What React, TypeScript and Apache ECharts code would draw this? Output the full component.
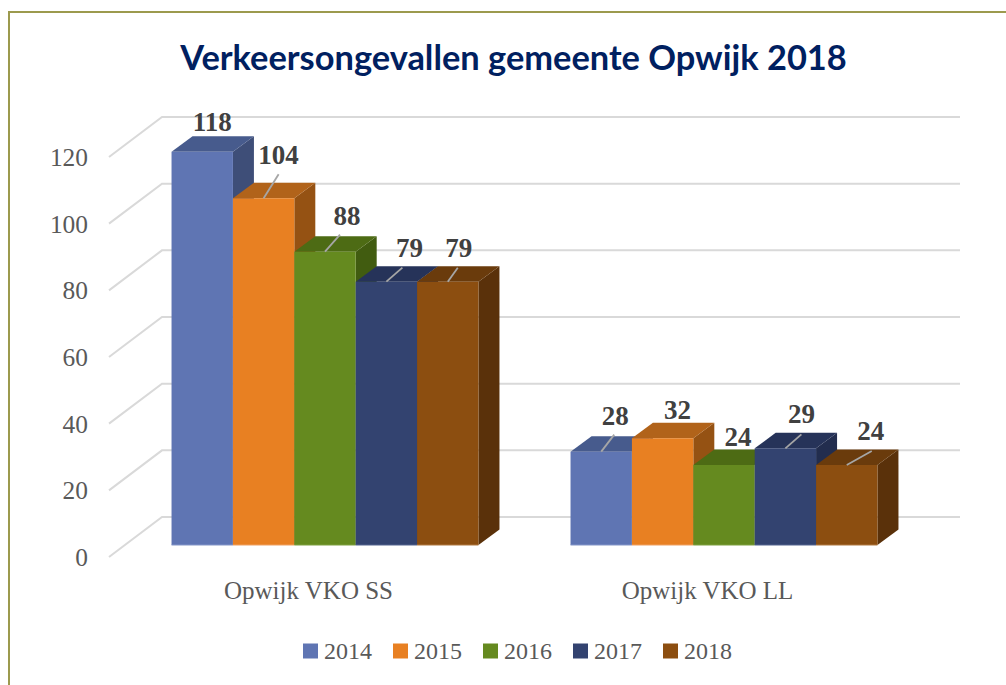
import React, { useEffect, useRef } from "react";
import * as echarts from "echarts";

const title = "Verkeersongevallen gemeente Opwijk 2018";
const categories = ["Opwijk VKO SS", "Opwijk VKO LL"];
const years = ["2014", "2015", "2016", "2017", "2018"];
const values2014 = [118, 28];
const values2015 = [104, 32];
const values2016 = [88, 24];
const values2017 = [79, 29];
const values2018 = [79, 24];
const yTicks = [0, 20, 40, 60, 80, 100, 120];

const allValues = [values2014, values2015, values2016, values2017, values2018];
const frontColors = ["#5F75B3", "#E88022", "#658A1F", "#334370", "#8C4E10"];
const topColors = ["#475B8D", "#B1631A", "#4D6B14", "#263359", "#6A3B0C"];
const sideColors = ["#3E4E78", "#955213", "#415C10", "#222D4E", "#5A310A"];
const edgeColors = ["#8496C8", "#F0A060", "#7FA040", "#55658F", "#B07840"];

// label placement relative to the top-front centre of a bar: [dx, dy, leaderDx, leaderDy]
const labelPlacement = [
  [[10, -30], [14, -36, 13, -17]],
  [[15, -43, 15, -24], [15, -28]],
  [[22, -36, 15, -17], [14, -28]],
  [[23, -34, 16, -14], [16, -34, 16, -14]],
  [[11, -34, 10, -14], [24, -34, 25, -14]],
];

const SERIF = "'Liberation Serif', serif";
const WALL = { dx: 53, dy: -40 };
const PLANE = { dx: 16.5, dy: -12 };
const DEPTH = { dx: 21, dy: -15.5 };
const GAP = 1.5;

function barGeometry(api: any, yearIdx: number) {
  const cat = api.value(0);
  const val = api.value(1);
  const [cx, top] = api.coord([cat, val]);
  const [, base] = api.coord([cat, 0]);
  const w = api.size([1, 0])[0] / (5 + GAP);
  const x0 = cx + (yearIdx - 2.5) * w + PLANE.dx;
  return { x0, x1: x0 + w, top: top + PLANE.dy, base: base + PLANE.dy, w, cat };
}

export default function App() {
  const ref = useRef<HTMLDivElement>(null);
  useEffect(() => {
    document.body.style.margin = "0";
    const chart = echarts.init(ref.current!, undefined, { renderer: "svg" });

    const wallSeries = {
      type: "custom",
      name: "wall",
      silent: true,
      z: 1,
      data: yTicks.map((t) => [0, t]),
      encode: { x: 0, y: 1 },
      renderItem: (params: any, api: any) => {
        const [, y] = api.coord([0, api.value(1)]);
        const cs = params.coordSys;
        return {
          type: "polyline",
          shape: {
            points: [
              [cs.x, y],
              [cs.x + WALL.dx, y + WALL.dy],
              [cs.x + cs.width + WALL.dx, y + WALL.dy],
            ],
          },
          style: { stroke: "#D9D9D9", lineWidth: 2, fill: "none" },
        };
      },
    };

    const barSeries = years.map((year, i) => ({
      type: "custom",
      name: year,
      z: 2 + i,
      itemStyle: { color: frontColors[i] },
      data: categories.map((_, c) => [c, allValues[i][c]]),
      encode: { x: 0, y: 1 },
      renderItem: (_p: any, api: any) => {
        const g = barGeometry(api, i);
        return {
          type: "group",
          children: [
            {
              type: "polygon",
              shape: {
                points: [
                  [g.x1, g.top],
                  [g.x1 + DEPTH.dx, g.top + DEPTH.dy],
                  [g.x1 + DEPTH.dx, g.base + DEPTH.dy],
                  [g.x1, g.base],
                ],
              },
              style: { fill: sideColors[i] },
            },
            {
              type: "polygon",
              shape: {
                points: [
                  [g.x0, g.top],
                  [g.x0 + DEPTH.dx, g.top + DEPTH.dy],
                  [g.x1 + DEPTH.dx, g.top + DEPTH.dy],
                  [g.x1, g.top],
                ],
              },
              style: { fill: topColors[i] },
            },
            {
              type: "rect",
              shape: { x: g.x0, y: g.top, width: g.w, height: g.base - g.top },
              style: { fill: frontColors[i] },
            },
            {
              type: "line",
              shape: { x1: g.x0, y1: g.base, x2: g.x1, y2: g.base },
              style: { stroke: edgeColors[i], lineWidth: 1 },
            },
          ],
        };
      },
    }));

    const labelSeries = years.map((year, i) => ({
      type: "custom",
      name: "label " + year,
      z: 20,
      silent: true,
      data: categories.map((_, c) => [c, allValues[i][c]]),
      encode: { x: 0, y: 1 },
      renderItem: (_p: any, api: any) => {
        const g = barGeometry(api, i);
        const place = labelPlacement[i][g.cat];
        const cx = (g.x0 + g.x1) / 2;
        const children: any[] = [
          {
            type: "text",
            style: {
              x: cx + place[0],
              y: g.top + place[1],
              text: String(api.value(1)),
              fill: "#404040",
              font: `bold 27px ${SERIF}`,
              textAlign: "center",
              textVerticalAlign: "middle",
            },
          },
        ];
        if (place.length > 2) {
          children.push({
            type: "line",
            shape: { x1: cx, y1: g.top, x2: cx + place[2], y2: g.top + place[3] },
            style: { stroke: "#A6A6A6", lineWidth: 1.8 },
          });
        }
        return { type: "group", children };
      },
    }));

    chart.setOption({
      animation: false,
      backgroundColor: "#FFFFFF",
      title: {
        text: title,
        left: 508.5,
        top: 34,
        textAlign: "center",
        textStyle: {
          fontFamily: "Lato",
          fontWeight: "bold",
          fontSize: 34.4,
          color: "#002060",
        },
      },
      legend: {
        data: years,
        left: 298,
        top: 634,
        icon: "rect",
        itemWidth: 15,
        itemHeight: 15,
        itemGap: 21,
        textStyle: { fontFamily: SERIF, fontSize: 24, color: "#595959", padding: [0, 0, 0, 1] },
      },
      grid: { left: 109, right: 99, top: 157, height: 400, containLabel: false },
      xAxis: {
        type: "category",
        data: categories,
        axisLine: { show: false },
        axisTick: { show: false },
        axisLabel: { margin: 21, fontFamily: SERIF, fontSize: 25, color: "#595959" },
      },
      yAxis: {
        type: "value",
        min: 0,
        max: 120,
        interval: 20,
        axisLine: { show: false },
        axisTick: { show: false },
        splitLine: { show: false },
        axisLabel: { margin: 21, fontFamily: SERIF, fontSize: 25.4, color: "#595959" },
      },
      graphic: [
        {
          type: "rect",
          silent: true,
          z: -1,
          shape: { x: 9, y: 12, width: 1010, height: 690 },
          style: { fill: "none", stroke: "#9C9A4E", lineWidth: 2 },
        },
      ],
      series: [wallSeries, ...barSeries, ...labelSeries],
    });
    return () => chart.dispose();
  }, []);
  return <div ref={ref} style={{ position: "absolute", left: 0, top: 0, width: 1006, height: 685, overflow: "hidden" }} />;
}
